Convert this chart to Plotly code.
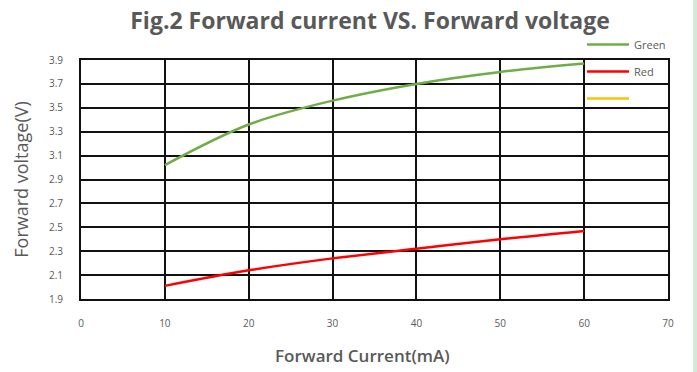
import plotly.graph_objects as go

# Forward current (mA) and measured forward voltage (V) per LED colour
current_ma = [10, 20, 30, 40, 50, 60]
green_v = [3.02, 3.36, 3.56, 3.70, 3.80, 3.87]
red_v = [2.01, 2.14, 2.24, 2.32, 2.40, 2.47]

x_ticks = [0, 10, 20, 30, 40, 50, 60, 70]
y_ticks = [1.9, 2.1, 2.3, 2.5, 2.7, 2.9, 3.1, 3.3, 3.5, 3.7, 3.9]

GREY = "#595959"
FONT = "Open Sans"

# plot-area geometry in pixels
W, H = 697, 372
L, R, T, B = 81, 29, 60, 73
PW, PH = W - L - R, H - T - B

fig = go.Figure()
fig.add_trace(go.Scatter(
    x=current_ma, y=green_v, name="Green", mode="lines",
    line=dict(color="#70AD47", width=2.5, shape="spline"),
    legendgroup="g1",
))
fig.add_trace(go.Scatter(
    x=current_ma, y=red_v, name="Red", mode="lines",
    line=dict(color="#FF0000", width=2.5, shape="spline"),
    legendgroup="g2",
))
fig.add_trace(go.Scatter(
    x=[None], y=[None], name=" ", mode="lines",
    line=dict(color="#FFC000", width=2.5),
    legendgroup="g3",
))

axis_common = dict(
    showline=True, mirror=True, linecolor="#111111", linewidth=2,
    showgrid=True, gridcolor="#111111", gridwidth=2,
    zeroline=False, ticks="", automargin=False,
    tickfont=dict(family=FONT, size=10, color=GREY),
)

fig.update_xaxes(
    range=[0, 70], tickvals=x_ticks, ticktext=[str(v) for v in x_ticks],
    ticklabelstandoff=14,
    **axis_common,
)
fig.update_yaxes(
    range=[1.9, 3.9], tickvals=y_ticks, ticktext=[f"{v:.1f}" for v in y_ticks],
    ticklabelstandoff=14,
    title=dict(text="Forward voltage(V)", standoff=16,
               font=dict(family=FONT, size=18, color=GREY)),
    **axis_common,
)

# x-axis caption, sitting slightly left of the plot centre
fig.add_annotation(
    text="Forward Current(mA)", xref="paper", yref="paper",
    x=(362 - L) / PW, y=-(355 - T - PH) / PH, xanchor="center", yanchor="middle",
    showarrow=False, font=dict(family=FONT, size=17, color=GREY, weight=600),
)

# thin tinted strip along the right edge of the page
fig.add_shape(type="rect", xref="paper", yref="paper",
              x0=(693 - L) / PW, x1=(699 - L) / PW, y0=-1, y1=2,
              fillcolor="#D3EBD3", line_width=0, layer="below")

fig.update_layout(
    width=W, height=H,
    margin=dict(l=L, r=R, t=T, b=B, autoexpand=False),
    paper_bgcolor="white", plot_bgcolor="white",
    title=dict(text="<b>Fig.2 Forward current VS. Forward voltage</b>",
               x=370 / W, xanchor="center", y=1 - 21 / H, yanchor="middle",
               yref="container",
               font=dict(family=FONT, size=23, color=GREY)),
    legend=dict(x=(582 - L) / PW, xanchor="left",
                y=(T + PH - 30) / PH, yanchor="top",
                bgcolor="rgba(0,0,0,0)", traceorder="grouped",
                tracegroupgap=8, itemwidth=42,
                font=dict(family=FONT, size=11, color=GREY)),
    showlegend=True,
)

fig.write_html("out.html")
